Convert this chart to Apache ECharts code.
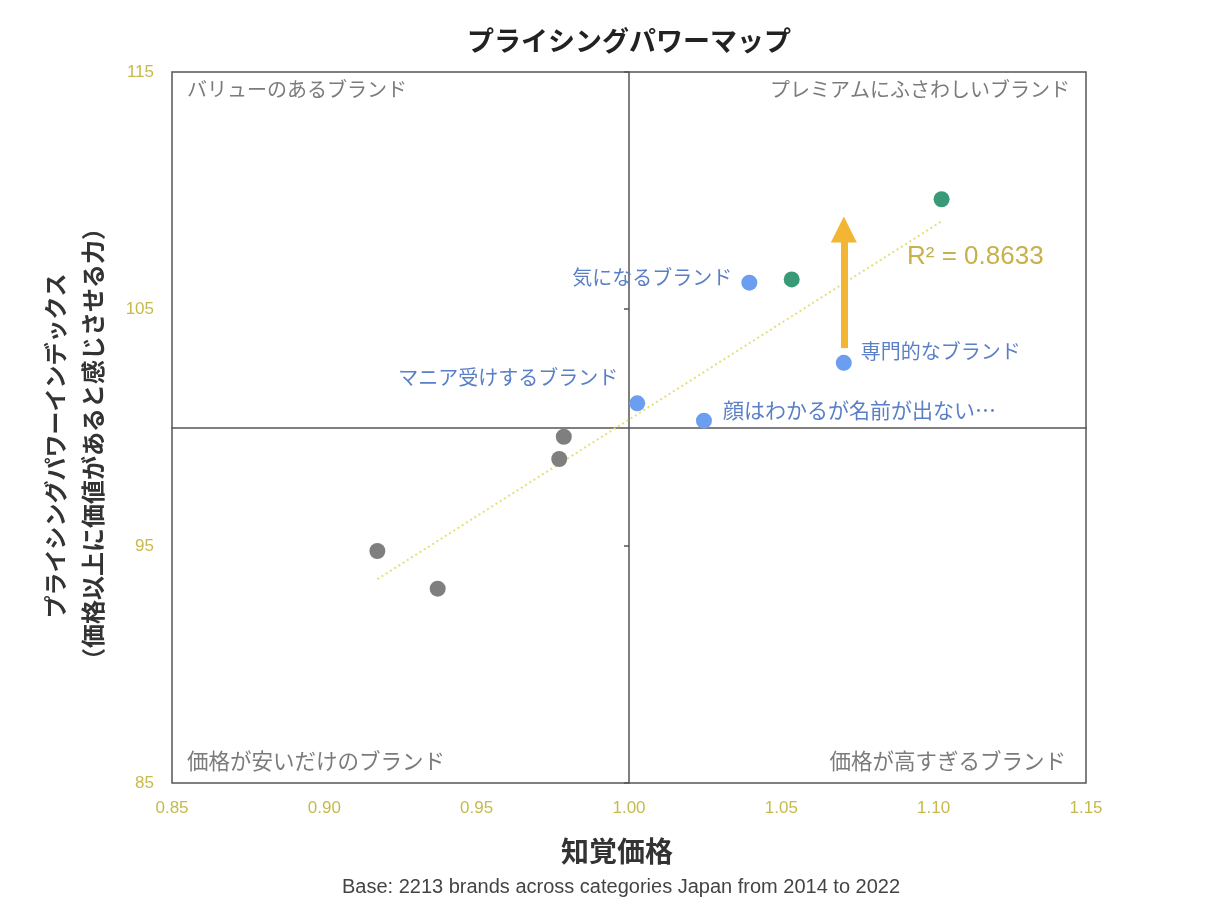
<!DOCTYPE html>
<html>
<head>
<meta charset="utf-8">
<script src="https://cdn.jsdelivr.net/npm/echarts@6/dist/echarts.min.js"></script>
<style>
html,body{margin:0;padding:0;background:#fff;}
#chart{width:1212px;height:924px;}
</style>
</head>
<body>
<div id="chart"></div>
<script>
// ---- data ----
var xTicks = [0.85, 0.90, 0.95, 1.00, 1.05, 1.10, 1.15];
var yTicks = [85, 95, 105, 115];
var grayPoints = [[0.9174, 94.79], [0.9372, 93.20], [0.9771, 98.67], [0.9786, 99.61]];
var bluePoints = [[1.0027, 101.02], [1.0246, 100.29], [1.0395, 106.11], [1.0705, 102.73]];
var blueNames = ['マニア受けするブランド', '顔はわかるが名前が出ない…', '気になるブランド', '専門的なブランド'];
var greenPoints = [[1.0534, 106.25], [1.1026, 109.63]];
var trendLine = [[0.9174, 93.60], [1.1026, 108.70]];
var arrowX = 1.0705;
var arrowY = [103.35, 108.35];
var rSquared = 'R² = 0.8633';
var quadrantLabels = ['バリューのあるブランド', 'プレミアムにふさわしいブランド', '価格が安いだけのブランド', '価格が高すぎるブランド'];
var xAxisTitle = '知覚価格';
var yAxisTitle = ['プライシングパワーインデックス', '（価格以上に価値があると感じさせる力）'];
var chartTitle = 'プライシングパワーマップ';
var footnote = 'Base: 2213 brands across categories Japan from 2014 to 2022';

var JP = '"Noto Sans CJK JP", "Noto Sans", sans-serif';
var LAT = '"Liberation Sans", Arial, sans-serif';

var labelPlacement = [
  {position: 'left', offset: [-6, -26], size: 20},
  {position: 'right', offset: [6, -11], size: 21},
  {position: 'left', offset: [-4, -5], size: 20},
  {position: 'right', offset: [4, -11], size: 20}
];

var blueData = bluePoints.map(function (p, i) {
  return {
    value: p,
    name: blueNames[i],
    label: {
      show: true,
      formatter: '{b}',
      position: labelPlacement[i].position,
      offset: labelPlacement[i].offset,
      color: '#5a7fc6',
      fontSize: labelPlacement[i].size,
      fontFamily: JP
    }
  };
});

var chart = echarts.init(document.getElementById('chart'));
var gridL = 172, gridR = 126, gridT = 72, gridB = 141;
var plotW = 1212 - gridL - gridR, plotH = 924 - gridT - gridB;

var option = {
  animation: false,
  backgroundColor: '#ffffff',
  title: {
    text: chartTitle,
    left: gridL + plotW / 2 - 5,
    top: 22,
    textAlign: 'center',
    textStyle: {fontSize: 27, fontWeight: 'bold', color: '#222', fontFamily: JP}
  },
  grid: {
    left: gridL, right: gridR, top: gridT, bottom: gridB,
    show: true, borderColor: '#555', borderWidth: 1.5, backgroundColor: 'transparent'
  },
  xAxis: [{
    type: 'value', min: xTicks[0], max: xTicks[xTicks.length - 1], interval: 0.05,
    axisLine: {show: false}, axisTick: {show: false}, splitLine: {show: false},
    axisLabel: {
      color: '#c6ba4c', fontSize: 17, fontFamily: LAT, margin: 17,
      formatter: function (v) { return v.toFixed(2); }
    }
  }, {
    type: 'value', min: xTicks[0], max: xTicks[xTicks.length - 1], interval: 0.05,
    position: 'bottom', offset: -plotH / 2,
    axisLine: {show: true, lineStyle: {color: '#555', width: 1.5}},
    axisTick: {show: false}, axisLabel: {show: false}, splitLine: {show: false}
  }],
  yAxis: [{
    type: 'value', min: yTicks[0], max: yTicks[yTicks.length - 1], interval: 10,
    axisLine: {show: false}, axisTick: {show: false}, splitLine: {show: false},
    axisLabel: {color: '#c6ba4c', fontSize: 17, fontFamily: LAT, margin: 18}
  }, {
    type: 'value', min: yTicks[0], max: yTicks[yTicks.length - 1], interval: 10,
    position: 'left', offset: -plotW / 2,
    axisLine: {show: true, lineStyle: {color: '#555', width: 1.5}},
    axisTick: {show: true, length: 5, lineStyle: {color: '#555', width: 1.5}},
    axisLabel: {show: false}, splitLine: {show: false}
  }],
  series: [{
    type: 'line', data: trendLine, symbol: 'none', z: 1,
    lineStyle: {color: '#e6df78', width: 2, type: [2, 3]}
  }, {
    type: 'scatter', data: grayPoints, symbolSize: 16, z: 3,
    itemStyle: {color: '#7f7f7f', opacity: 1}
  }, {
    type: 'scatter', data: blueData, symbolSize: 16, z: 3,
    itemStyle: {color: '#6b9ef0', opacity: 1}
  }, {
    type: 'scatter', data: greenPoints, symbolSize: 16, z: 3,
    itemStyle: {color: '#3a9a78', opacity: 1},
    markLine: {
      silent: true, symbol: ['none', 'triangle'], symbolSize: [26, 26],
      label: {show: false},
      lineStyle: {color: '#f2b634', width: 7, type: 'solid'},
      data: [[{coord: [arrowX, arrowY[0]]}, {coord: [arrowX, arrowY[1]]}]]
    }
  }],
  graphic: [
    {type: 'text', left: 187, top: 79, style: {text: quadrantLabels[0], fontSize: 20, fill: '#7b7b7b', fontFamily: JP}},
    {type: 'text', right: 142, top: 79, style: {text: quadrantLabels[1], fontSize: 20, fill: '#7b7b7b', fontFamily: JP}},
    {type: 'text', left: 187, top: 750, style: {text: quadrantLabels[2], fontSize: 21.5, fill: '#7b7b7b', fontFamily: JP}},
    {type: 'text', right: 146, top: 750, style: {text: quadrantLabels[3], fontSize: 21.5, fill: '#7b7b7b', fontFamily: JP}},
    {type: 'text', left: 907, top: 244, style: {text: rSquared, fontSize: 26, fill: '#c8b04a', fontFamily: LAT}},
    {type: 'text', x: 55, y: 446, rotation: Math.PI / 2,
      style: {text: yAxisTitle[0], fontSize: 23, fontWeight: 'bold', fill: '#333', fontFamily: JP, textAlign: 'center', textVerticalAlign: 'middle'}},
    {type: 'text', x: 93, y: 444, rotation: Math.PI / 2,
      style: {text: yAxisTitle[1], fontSize: 24, fontWeight: 'bold', fill: '#333', fontFamily: JP, textAlign: 'center', textVerticalAlign: 'middle'}},
    {type: 'text', x: 617, y: 851,
      style: {text: xAxisTitle, fontSize: 28, fontWeight: 'bold', fill: '#333', fontFamily: JP, textAlign: 'center', textVerticalAlign: 'middle'}},
    {type: 'text', x: 621, y: 887,
      style: {text: footnote, fontSize: 20, fill: '#444', fontFamily: LAT, textAlign: 'center', textVerticalAlign: 'middle'}}
  ]
};
chart.setOption(option);
</script>
</body>
</html>
